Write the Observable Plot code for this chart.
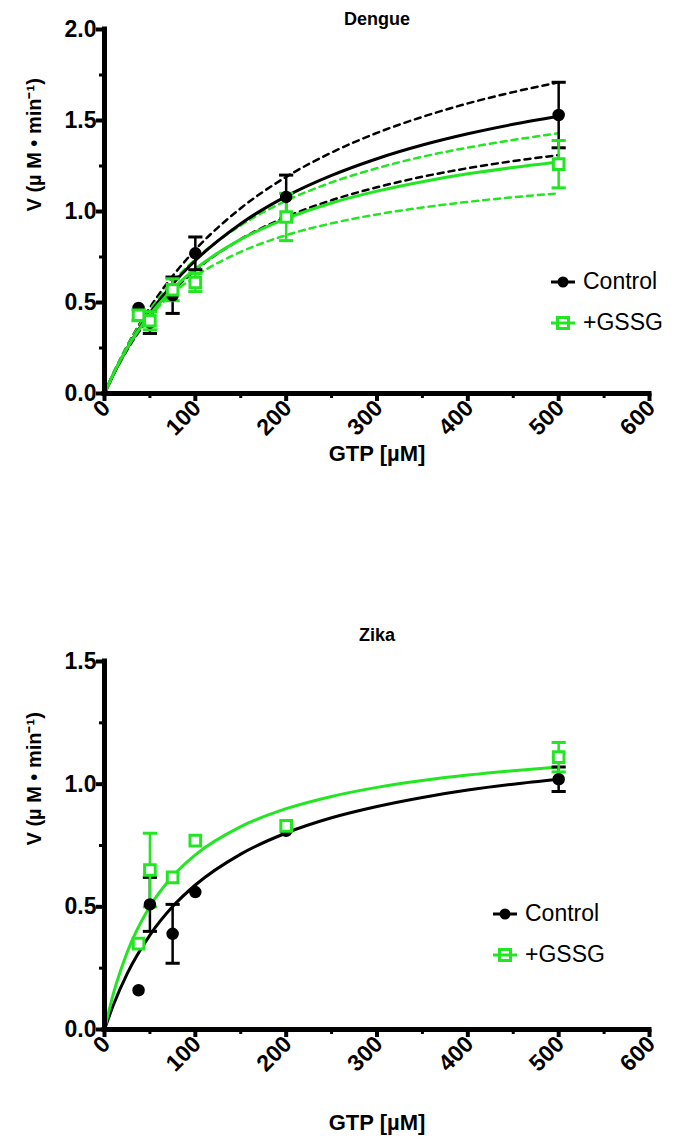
<!DOCTYPE html>
<html>
<head>
<meta charset="utf-8">
<script src="https://cdn.jsdelivr.net/npm/d3@7"></script>
<script src="https://cdn.jsdelivr.net/npm/@observablehq/plot@0.6"></script>
<style>
  body { margin: 0; background: #fff; font-family: "Liberation Sans", Arial, sans-serif; }
  #wrap { position: relative; width: 680px; height: 1145px; overflow: hidden; }
  .panel { position: absolute; left: 0; }
  .legend { position: absolute; font-family: "Liberation Sans", Arial, sans-serif; font-size: 23px; color: #000; }
  .legend .row { display: flex; align-items: center; height: 41px; }
  .legend svg { margin-right: 7px; }
</style>
</head>
<body>
<div id="wrap"></div>
<script>
// ---------- data ----------
const gtp = [37.5, 50, 75, 100, 200, 500];

const dengueControl = [0.47, 0.39, 0.54, 0.77, 1.08, 1.53];
const dengueControlErr = [0, 0.06, 0.10, 0.09, 0.12, 0.18];
const dengueGSSG = [0.43, 0.40, 0.57, 0.61, 0.97, 1.26];
const dengueGSSGErr = [0.03, 0.05, 0.06, 0.05, 0.13, 0.13];

const zikaControl = [0.16, 0.51, 0.39, 0.56, 0.81, 1.02];
const zikaControlErr = [0, 0.11, 0.12, 0, 0, 0.05];
const zikaGSSG = [0.35, 0.65, 0.62, 0.77, 0.83, 1.11];
const zikaGSSGErr = [0, 0.15, 0, 0, 0, 0.06];

// fitted curves and confidence bands
const fitX = [0, 10, 25, 50, 75, 100, 150, 200, 250, 300, 350, 400, 450, 500];
const dengueControlFit   = [0, 0.107, 0.248, 0.443, 0.601, 0.731, 0.933, 1.083, 1.198, 1.290, 1.365, 1.427, 1.479, 1.523];
const dengueControlUpper = [0, 0.112, 0.262, 0.472, 0.645, 0.790, 1.018, 1.190, 1.324, 1.432, 1.520, 1.594, 1.656, 1.710];
const dengueControlLower = [0, 0.105, 0.240, 0.422, 0.563, 0.677, 0.848, 0.970, 1.062, 1.133, 1.191, 1.238, 1.277, 1.310];
const dengueGSSGFit      = [0, 0.110, 0.250, 0.433, 0.573, 0.684, 0.847, 0.961, 1.047, 1.112, 1.164, 1.207, 1.242, 1.272];
const dengueGSSGUpper    = [0, 0.115, 0.262, 0.460, 0.614, 0.738, 0.924, 1.059, 1.160, 1.238, 1.301, 1.351, 1.393, 1.430];
const dengueGSSGLower    = [0, 0.114, 0.252, 0.424, 0.549, 0.644, 0.778, 0.870, 0.935, 0.984, 1.022, 1.053, 1.078, 1.100];
const zikaControlFit     = [0, 0.102, 0.228, 0.385, 0.501, 0.589, 0.715, 0.801, 0.863, 0.909, 0.946, 0.976, 1.000, 1.020];
const zikaGSSGFit        = [0, 0.149, 0.315, 0.502, 0.625, 0.712, 0.827, 0.900, 0.950, 0.987, 1.015, 1.037, 1.055, 1.070];

const xTicks = [0, 100, 200, 300, 400, 500, 600];
const xMinor = [50, 150, 250, 350, 450, 550];
const dengueYTicks = [0, 0.5, 1.0, 1.5, 2.0];
const dengueYMinor = [0.25, 0.75, 1.25, 1.75];
const zikaYTicks = [0, 0.5, 1.0, 1.5];
const zikaYMinor = [0.25, 0.75, 1.25];

const seriesNames = ["Control", "+GSSG"];
const GREEN = "#22e622";
const BLACK = "#000000";

// ---------- helpers ----------
const pts = (xs, ys, es) => xs.map((x, i) => ({x, y: ys[i], e: es[i]}));
const line = (xs, ys) => xs.map((x, i) => ({x, y: ys[i]}));
const capSymbol = { draw(ctx, size) { const w = Math.sqrt(size); ctx.moveTo(-w, 0); ctx.lineTo(w, 0); } };

function panel({title, top, height, marginTop, marginBottom, yMax, yTicks, yMinor,
                control, gssg, solid, dashed, titleDy, xLabelDy, legend}) {
  const wrap = document.getElementById("wrap");
  const font = "Liberation Sans, Arial, sans-serif";
  const errMarks = (all, color) => {
    const data = all.filter(d => d.e > 0);
    return [
      Plot.ruleX(data, {x: "x", y1: d => d.y - d.e, y2: d => d.y + d.e, stroke: color, strokeWidth: 2.5}),
      Plot.dot(data, {x: "x", y: d => d.y + d.e, symbol: capSymbol, r: 4, stroke: color, strokeWidth: 3}),
      Plot.dot(data, {x: "x", y: d => d.y - d.e, symbol: capSymbol, r: 4, stroke: color, strokeWidth: 3})
    ];
  };
  const chart = Plot.plot({
    width: 680,
    height,
    marginLeft: 104,
    marginRight: 31,
    marginTop,
    marginBottom,
    style: {fontFamily: font, background: "white", overflow: "visible"},
    x: {domain: [0, 600], axis: null},
    y: {domain: [0, yMax], axis: null},
    marks: [
      ...dashed.map(([data, color]) => Plot.line(data, {x: "x", y: "y", stroke: color, strokeWidth: 2.5, strokeDasharray: "6,5", curve: "monotone-x"})),
      ...solid.map(([data, color]) => Plot.line(data, {x: "x", y: "y", stroke: color, strokeWidth: 3, curve: "monotone-x"})),
      ...errMarks(control, BLACK),
      ...errMarks(gssg, GREEN),
      Plot.dot(control, {x: "x", y: "y", r: 5.5, fill: BLACK, stroke: BLACK}),
      Plot.dot(gssg, {x: "x", y: "y", symbol: "square", r: 6, fill: "white", stroke: GREEN, strokeWidth: 3}),
      // axes
      Plot.axisX({ticks: xTicks, tickSize: 8, strokeWidth: 4, tickFormat: () => "", label: null}),
      Plot.axisX({ticks: xMinor, tickSize: 5, strokeWidth: 3, tickFormat: () => "", label: null}),
      Plot.axisY({ticks: yTicks, tickSize: 8, strokeWidth: 4, tickFormat: () => "", label: null}),
      Plot.axisY({ticks: yMinor, tickSize: 5, strokeWidth: 3, tickFormat: () => "", label: null}),
      Plot.ruleY([0], {x1: 0, x2: 600, stroke: BLACK, strokeWidth: 5, strokeLinecap: "square"}),
      Plot.ruleX([0], {y1: 0, y2: yMax, stroke: BLACK, strokeWidth: 5, strokeLinecap: "square"}),
      // tick labels
      Plot.text(xTicks, {x: d => d, frameAnchor: "bottom", text: d => String(d), rotate: -45, textAnchor: "end",
        dx: 7, dy: 16, fontSize: 23, fontWeight: "bold", fill: BLACK}),
      Plot.text(yTicks, {y: d => d, frameAnchor: "left", text: d => d3.format(".1f")(d), textAnchor: "end",
        dx: -8, fontSize: 23, fontWeight: "bold", fill: BLACK}),
      // titles
      Plot.text([title], {frameAnchor: "top", dy: titleDy, text: d => d, fontSize: 18, fontWeight: "bold", fill: BLACK}),
      Plot.text(["GTP [µM]"], {frameAnchor: "bottom", dy: xLabelDy, text: d => d, fontSize: 22, fontWeight: "bold", fill: BLACK}),
      Plot.text(["V (µ M • min⁻¹)"], {frameAnchor: "left", dx: -70, rotate: -90, text: d => d, fontSize: 20, fontWeight: "bold", fill: BLACK})
    ]
  });
  chart.classList.add("panel");
  chart.style.top = top + "px";
  wrap.appendChild(chart);

  const lg = document.createElement("div");
  lg.className = "legend";
  lg.style.left = legend.left + "px";
  lg.style.top = legend.top + "px";
  const icons = [
    `<svg width="26" height="16"><line x1="1" y1="8" x2="25" y2="8" stroke="${BLACK}" stroke-width="3"/><circle cx="13" cy="8" r="5.5" fill="${BLACK}"/></svg>`,
    `<svg width="26" height="16"><line x1="1" y1="8" x2="25" y2="8" stroke="${GREEN}" stroke-width="3"/><rect x="7.5" y="2.5" width="11" height="11" fill="white" stroke="${GREEN}" stroke-width="3"/><line x1="9" y1="8" x2="17" y2="8" stroke="${GREEN}" stroke-width="3"/></svg>`
  ];
  lg.innerHTML = seriesNames.map((n, i) => `<div class="row">${icons[i]}<span>${n}</span></div>`).join("");
  wrap.appendChild(lg);
}

panel({
  title: "Dengue", top: 0, height: 480, marginTop: 29, marginBottom: 87,
  yMax: 2.0, yTicks: dengueYTicks, yMinor: dengueYMinor,
  control: pts(gtp, dengueControl, dengueControlErr),
  gssg: pts(gtp, dengueGSSG, dengueGSSGErr),
  solid: [[line(fitX, dengueControlFit), BLACK], [line(fitX, dengueGSSGFit), GREEN]],
  dashed: [[line(fitX, dengueControlUpper), BLACK], [line(fitX, dengueControlLower), BLACK],
           [line(fitX, dengueGSSGUpper), GREEN], [line(fitX, dengueGSSGLower), GREEN]],
  titleDy: -17, xLabelDy: 67,
  legend: {left: 550, top: 261}
});

panel({
  title: "Zika", top: 580, height: 565, marginTop: 81, marginBottom: 116,
  yMax: 1.5, yTicks: zikaYTicks, yMinor: zikaYMinor,
  control: pts(gtp, zikaControl, zikaControlErr),
  gssg: pts(gtp, zikaGSSG, zikaGSSGErr),
  solid: [[line(fitX, zikaControlFit), BLACK], [line(fitX, zikaGSSGFit), GREEN]],
  dashed: [],
  titleDy: -33, xLabelDy: 100,
  legend: {left: 492, top: 893}
});
</script>
</body>
</html>
